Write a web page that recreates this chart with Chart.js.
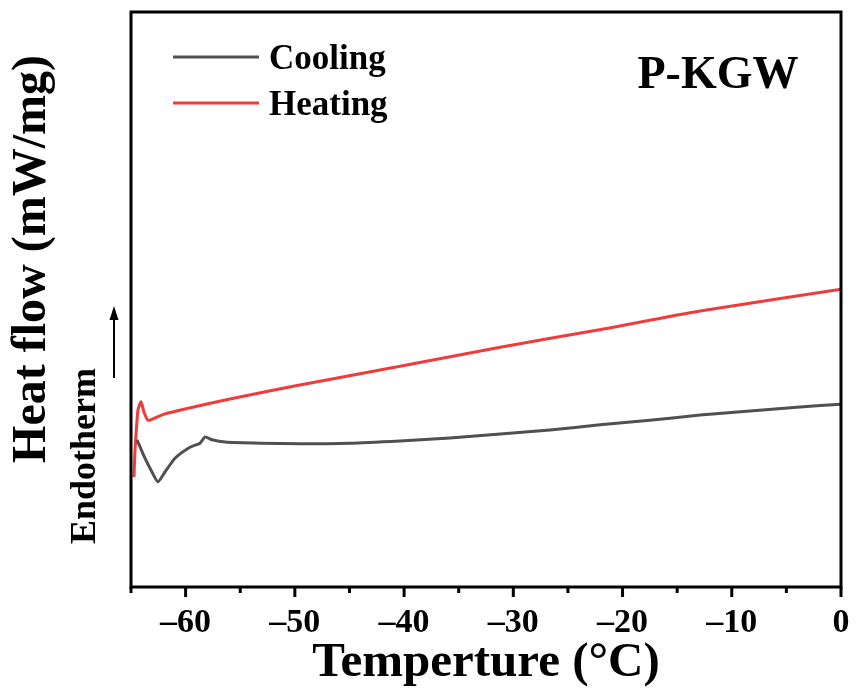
<!DOCTYPE html>
<html>
<head>
<meta charset="utf-8">
<script src="https://cdn.jsdelivr.net/npm/chart.js@4"></script>
<style>
  html, body { margin: 0; padding: 0; background: #fff; }
  #wrap { width: 857px; height: 693px; }
</style>
</head>
<body>
<div id="wrap"><canvas id="dsc"></canvas></div>
<script>
const SERIF = "'Liberation Serif', 'DejaVu Serif', serif"

// DSC traces, temperature in °C vs heat flow (arbitrary offset units)
const coolingT = [-64.45, -63.72, -63.08, -62.53, -61.89, -60.97, -59.6, -58.68, -58.22, -57.58, -56.39, -53.19, -49.53, -44.95, -40.37, -35.8, -31.2, -26.64, -22.06, -17.5, -12.9, -8.33, -3.75, 0]
const coolingHF = [25.6, 22.4, 20.0, 18.3, 20.0, 22.4, 24.3, 25.0, 26.1, 25.6, 25.2, 25.0, 24.9, 25.0, 25.4, 25.9, 26.6, 27.3, 28.2, 29.0, 29.9, 30.6, 31.3, 31.8]

const heatingT = [-64.73, -64.63, -64.36, -64.08, -63.81, -63.44, -62.8, -61.89, -59.96, -55.94, -49.9, -40.37, -31.2, -22.25, -12.9, 0]
const heatingHF = [19.1, 23.8, 30.8, 32.2, 30.4, 29.0, 29.4, 30.1, 31.0, 32.7, 35.0, 38.4, 41.7, 44.7, 48.0, 51.8]

const seriesLabels = ["Cooling", "Heating"]
const seriesColors = ["#505050", "#ef3b3b"]
const xTickValues = [-60, -50, -40, -30, -20, -10, 0]

const toPoints = (xs, ys) => xs.map((x, i) => ({ x, y: ys[i] }))

const decorPlugin = {
  id: 'decor',
  afterDraw(chart) {
    const ctx = chart.ctx
    const area = chart.chartArea
    const xs = chart.scales.x

    ctx.save()
    // frame
    ctx.strokeStyle = "#000"
    ctx.lineWidth = 3
    ctx.strokeRect(area.left, area.top, area.right - area.left, area.bottom - area.top)

    // outward ticks, long on labelled values
    for (let v = -65; v <= 0; v += 5) {
      const px = xs.getPixelForValue(v)
      const len = v % 10 === 0 ? 10 : 6
      ctx.beginPath()
      ctx.moveTo(px, area.bottom)
      ctx.lineTo(px, area.bottom + len)
      ctx.stroke()
    }

    // legend
    ctx.font = "bold 35px " + SERIF
    ctx.textBaseline = "alphabetic"
    ctx.fillStyle = "#000"
    chart.data.datasets.forEach((ds, i) => {
      const y = 57 + i * 46
      ctx.strokeStyle = ds.borderColor
      ctx.lineWidth = 3
      ctx.beginPath()
      ctx.moveTo(173, y)
      ctx.lineTo(259, y)
      ctx.stroke()
      ctx.fillText(ds.label, 269, y + 12)
    })

    // sample name
    ctx.font = "bold 46px " + SERIF
    ctx.textAlign = "center"
    ctx.textBaseline = "middle"
    ctx.fillText("P-KGW", 718, 76)

    // y title, endotherm note and arrow
    ctx.save()
    ctx.translate(33, 259)
    ctx.rotate(-Math.PI / 2)
    ctx.font = "bold 48px " + SERIF
    ctx.fillText("Heat flow (mW/mg)", 0, 0)
    ctx.restore()

    ctx.save()
    ctx.translate(86, 456)
    ctx.rotate(-Math.PI / 2)
    ctx.font = "bold 36px " + SERIF
    ctx.fillText("Endotherm", 0, 0)
    ctx.restore()

    ctx.strokeStyle = "#000"
    ctx.lineWidth = 2
    ctx.beginPath()
    ctx.moveTo(114, 378)
    ctx.lineTo(114, 316)
    ctx.stroke()
    ctx.beginPath()
    ctx.moveTo(114, 306)
    ctx.lineTo(109.5, 320)
    ctx.lineTo(118.5, 320)
    ctx.closePath()
    ctx.fill()

    ctx.restore()
  }
}

const ctx = document.getElementById("dsc").getContext("2d")

new Chart(ctx, {
  type: "line",
  data: {
    datasets: [
      {
        label: seriesLabels[0],
        data: toPoints(coolingT, coolingHF),
        borderColor: seriesColors[0],
        borderWidth: 3,
        pointRadius: 0,
        tension: 0.2
      },
      {
        label: seriesLabels[1],
        data: toPoints(heatingT, heatingHF),
        borderColor: seriesColors[1],
        borderWidth: 3,
        pointRadius: 0,
        tension: 0.2
      }
    ]
  },
  options: {
    responsive: true,
    maintainAspectRatio: false,
    animation: false,
    layout: {
      padding: { top: 12, right: 16, left: 0, bottom: 0 }
    },
    plugins: {
      legend: { display: false },
      tooltip: { enabled: false }
    },
    scales: {
      x: {
        type: "linear",
        min: -65,
        max: 0,
        grid: { display: false, drawTicks: false },
        border: { display: false },
        afterFit(axis) {
          axis.height = 106
          axis.paddingLeft = 0
          axis.paddingRight = 0
        },
        afterBuildTicks(axis) {
          axis.ticks = xTickValues.map(v => ({ value: v }))
        },
        ticks: {
          padding: 16,
          color: "#000",
          maxRotation: 0,
          font: { family: SERIF, size: 34, weight: "bold" },
          callback: (value) => value < 0 ? "\u2013" + Math.abs(value) : String(value)
        },
        title: {
          display: true,
          text: "Temperture (°C)",
          color: "#000",
          padding: { top: 0, bottom: 0 },
          font: { family: SERIF, size: 49, weight: "bold" }
        }
      },
      y: {
        min: 0,
        max: 100,
        grid: { display: false, drawTicks: false },
        border: { display: false },
        ticks: { display: false },
        afterFit(axis) { axis.width = 131 }
      }
    }
  },
  plugins: [decorPlugin]
})
</script>
</body>
</html>
